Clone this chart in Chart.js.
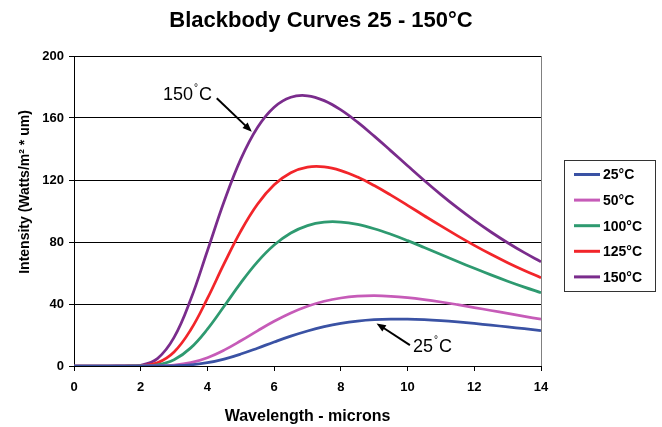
<!DOCTYPE html>
<html>
<head>
<meta charset="utf-8">
<script src="https://cdn.jsdelivr.net/npm/chart.js@4.4.1/dist/chart.umd.min.js"></script>
<style>
  html, body { margin: 0; padding: 0; background: #fff; }
</style>
</head>
<body>
<canvas id="chart" width="662" height="427"></canvas>
<script>
// wavelength in microns
const wavelengths = [0, 0.5, 1, 1.5, 2, 2.5, 3, 3.5, 4, 4.5, 5, 5.5, 6, 6.5, 7, 7.5, 8, 8.5, 9, 9.5, 10, 10.5, 11, 11.5, 12, 12.5, 13, 13.5, 14];

const seriesNames = ['25°C', '50°C', '100°C', '125°C', '150°C'];

// intensity, Watts/m2 * um
const curve25 = [0, 0, 0, 0, 0, 0.01, 0.16, 0.73, 2.11, 4.46, 7.70, 11.50, 15.47, 19.25, 22.60, 25.36, 27.48, 28.96, 29.87, 30.28, 30.26, 29.89, 29.26, 28.43, 27.45, 26.37, 25.23, 24.06, 22.88];
const curve50 = [0, 0, 0, 0, 0, 0.07, 0.55, 2.13, 5.35, 10.23, 16.25, 22.68, 28.83, 34.21, 38.54, 41.76, 43.88, 45.02, 45.34, 44.98, 44.11, 42.84, 41.30, 39.56, 37.72, 35.82, 33.91, 32.02, 30.18];
const curve100 = [0, 0, 0, 0, 0.05, 0.77, 4.03, 11.70, 23.79, 38.54, 53.62, 67.15, 78.01, 85.79, 90.60, 92.81, 92.88, 91.33, 88.57, 84.99, 80.88, 76.47, 71.95, 67.44, 63.03, 58.78, 54.73, 50.90, 47.30];
const curve125 = [0, 0, 0, 0, 0.17, 2.02, 9.04, 23.37, 43.58, 66.01, 87.04, 104.33, 116.87, 124.66, 128.26, 128.45, 126.08, 121.87, 116.41, 110.22, 103.65, 96.96, 90.36, 83.97, 77.85, 72.08, 66.67, 61.64, 56.96];
const curve150 = [0, 0, 0, 0.01, 0.48, 4.75, 18.42, 43.02, 74.33, 106.10, 133.46, 153.90, 166.98, 173.40, 174.35, 171.20, 165.20, 157.30, 148.30, 138.80, 129.20, 119.70, 110.60, 102.00, 93.96, 86.45, 79.52, 73.12, 67.26];

const colors = ['#3a52a4', '#c65bb8', '#2e9a70', '#f2252a', '#7a2c8c'];

const FONT = "'Liberation Sans', Arial, sans-serif";

function toPoints(vals) {
    return wavelengths.map((w, i) => ({ x: w, y: vals[i] }));
}

const allCurves = [curve25, curve50, curve100, curve125, curve150];

const datasets = allCurves.map((c, i) => ({
    label: seriesNames[i],
    data: toPoints(c),
    borderColor: colors[i],
    backgroundColor: colors[i],
    borderWidth: 2.75,
    pointRadius: 0,
    tension: 0.4,
    fill: false
}));

// callouts, in data units
const callouts = [
    { num: '150', tx: 2.67, ty: 171.6, from: [4.28, 172.7], to: [5.33, 151.2] },
    { num: '25', tx: 10.16, ty: 9.0, from: [10.07, 13.5], to: [9.07, 27.5] }
];

function drawArrow(ctx, x0, y0, x1, y1) {
    const ang = Math.atan2(y1 - y0, x1 - x0);
    const head = 10;
    ctx.beginPath();
    ctx.moveTo(x0, y0);
    ctx.lineTo(x1 - Math.cos(ang) * head * 0.8, y1 - Math.sin(ang) * head * 0.8);
    ctx.lineWidth = 2;
    ctx.strokeStyle = '#000';
    ctx.stroke();
    ctx.beginPath();
    ctx.moveTo(x1, y1);
    ctx.lineTo(x1 - head * Math.cos(ang - 0.38), y1 - head * Math.sin(ang - 0.38));
    ctx.lineTo(x1 - head * Math.cos(ang + 0.38), y1 - head * Math.sin(ang + 0.38));
    ctx.closePath();
    ctx.fillStyle = '#000';
    ctx.fill();
}

const extras = {
    id: 'extras',
    afterDraw(chart) {
        const ctx = chart.ctx;
        const xs = chart.scales.x, ys = chart.scales.y;
        ctx.save();

        // title
        ctx.fillStyle = '#000';
        ctx.font = 'bold 22px ' + FONT;
        ctx.textAlign = 'center';
        ctx.textBaseline = 'middle';
        ctx.fillText('Blackbody Curves 25 - 150°C', 321, 21);

        // y axis title
        ctx.save();
        ctx.translate(25, 192);
        ctx.rotate(-Math.PI / 2);
        ctx.font = 'bold 14px ' + FONT;
        ctx.fillText('Intensity (Watts/m² * um)', 0, 0);
        ctx.restore();

        // legend
        ctx.strokeStyle = '#333';
        ctx.lineWidth = 1;
        ctx.strokeRect(564.5, 160.5, 91, 131);
        ctx.font = 'bold 14px ' + FONT;
        ctx.textAlign = 'left';
        chart.data.datasets.forEach((ds, i) => {
            const y = 174.5 + i * 25.6;
            ctx.beginPath();
            ctx.moveTo(574, y);
            ctx.lineTo(600, y);
            ctx.strokeStyle = ds.borderColor;
            ctx.lineWidth = 3;
            ctx.stroke();
            ctx.fillStyle = '#000';
            ctx.fillText(ds.label, 603, y + 1);
        });

        // callouts
        ctx.textBaseline = 'alphabetic';
        callouts.forEach(c => {
            const px = xs.getPixelForValue(c.tx), py = ys.getPixelForValue(c.ty);
            ctx.font = '18px ' + FONT;
            ctx.fillStyle = '#000';
            ctx.fillText(c.num, px, py);
            const w = ctx.measureText(c.num).width;
            ctx.font = '10px ' + FONT;
            ctx.fillText('°', px + w + 1, py - 9);
            ctx.font = '18px ' + FONT;
            ctx.fillText('C', px + w + 6, py);
            drawArrow(ctx,
                xs.getPixelForValue(c.from[0]), ys.getPixelForValue(c.from[1]),
                xs.getPixelForValue(c.to[0]), ys.getPixelForValue(c.to[1]));
        });

        ctx.restore();
    }
};

Chart.defaults.font.family = FONT;
Chart.defaults.color = '#000';

new Chart(document.getElementById('chart'), {
    type: 'line',
    data: { datasets: datasets },
    options: {
        responsive: false,
        animation: false,
        devicePixelRatio: 1,
        layout: { padding: { top: 56, right: 121, left: 0, bottom: 0 } },
        plugins: {
            legend: { display: false },
            title: { display: false },
            tooltip: { enabled: false }
        },
        scales: {
            x: {
                type: 'linear',
                min: 0,
                max: 14,
                ticks: { stepSize: 2, font: { size: 13, weight: 'bold' }, color: '#000', padding: 9, maxRotation: 0 },
                grid: {
                    color: ctx => (ctx.tick && ctx.tick.value === 14) ? '#808080' : 'rgba(0,0,0,0)',
                    tickColor: '#000',
                    tickLength: 5
                },
                border: { color: '#000', width: 1 },
                title: {
                    display: true,
                    text: 'Wavelength - microns',
                    font: { size: 16, weight: 'bold' },
                    color: '#000',
                    padding: { top: 0, bottom: 1 }
                },
                afterFit: s => { s.height = 61; }
            },
            y: {
                min: 0,
                max: 200,
                ticks: { stepSize: 40, font: { size: 13, weight: 'bold' }, color: '#000', padding: 5 },
                grid: { color: '#000', tickColor: '#000', tickLength: 5 },
                border: { color: '#000', width: 1 },
                afterFit: s => { s.width = 74; }
            }
        }
    },
    plugins: [extras]
});
</script>
</body>
</html>
